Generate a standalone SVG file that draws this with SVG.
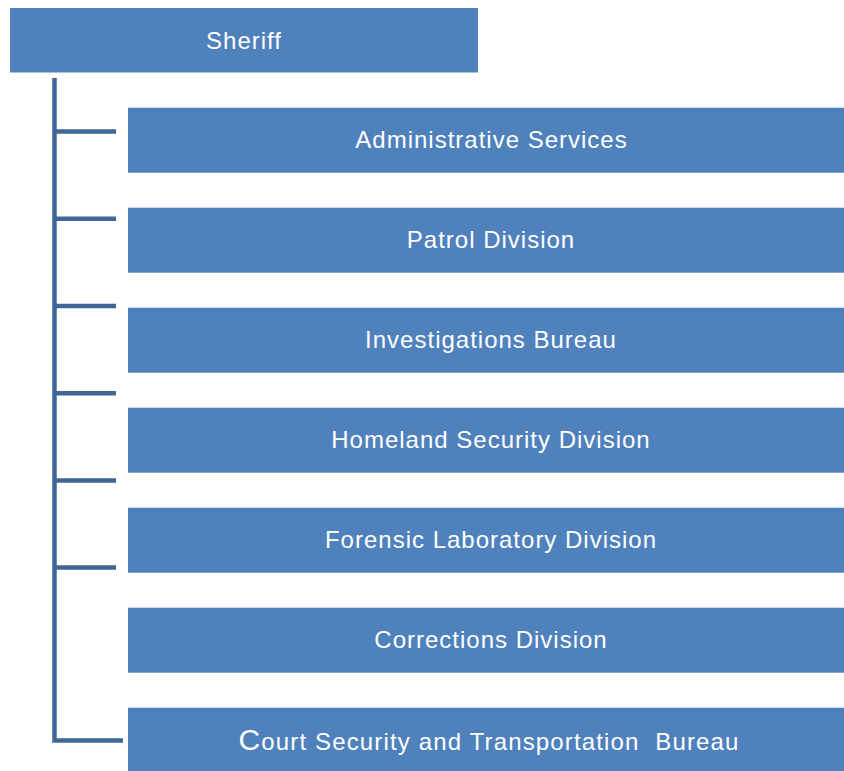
<svg xmlns="http://www.w3.org/2000/svg" width="844" height="771" viewBox="0 0 844 771">
<style>
.box{fill:#4F81BD}
.lbl{fill:#FFFFFF;font-family:"Liberation Sans",Arial,sans-serif;font-size:24px;letter-spacing:1px;text-anchor:middle}
.conn{stroke:#3F6696;stroke-width:4.5;fill:none;stroke-linecap:butt}
</style>
<rect width="844" height="771" fill="#FFFFFF"/>
<g id="connectors">
<path class="conn" d="M54.5 78 V740.5 H123"/>
<path class="conn" d="M54.5 131.6 H116 M54.5 218.8 H116 M54.5 306 H116 M54.5 393.2 H116 M54.5 480.4 H116 M54.5 567.6 H116"/>
</g>
<g id="sheriff"><rect class="box" x="10" y="8" width="468" height="64.5"/><text class="lbl" x="244" y="49">Sheriff</text></g>
<g id="admin"><rect class="box" x="128" y="107.7" width="716" height="65"/><text class="lbl" x="491.5" y="147.5">Administrative Services</text></g>
<g id="patrol"><rect class="box" x="128" y="207.7" width="716" height="65"/><text class="lbl" x="491" y="247.5">Patrol Division</text></g>
<g id="investigations"><rect class="box" x="128" y="307.7" width="716" height="65"/><text class="lbl" x="491" y="347.5">Investigations Bureau</text></g>
<g id="homeland"><rect class="box" x="128" y="407.7" width="716" height="65"/><text class="lbl" x="491" y="447.5">Homeland Security Division</text></g>
<g id="forensic"><rect class="box" x="128" y="507.7" width="716" height="65"/><text class="lbl" x="491" y="547.5">Forensic Laboratory Division</text></g>
<g id="corrections"><rect class="box" x="128" y="607.7" width="716" height="65"/><text class="lbl" x="491" y="647.5">Corrections Division</text></g>
<g id="court"><rect class="box" x="128" y="707.7" width="716" height="63.3"/><text class="lbl" x="489" y="750" style="letter-spacing:1.15px" xml:space="preserve"><tspan font-size="30">C</tspan>ourt Security and Transportation  Bureau</text></g>
</svg>
